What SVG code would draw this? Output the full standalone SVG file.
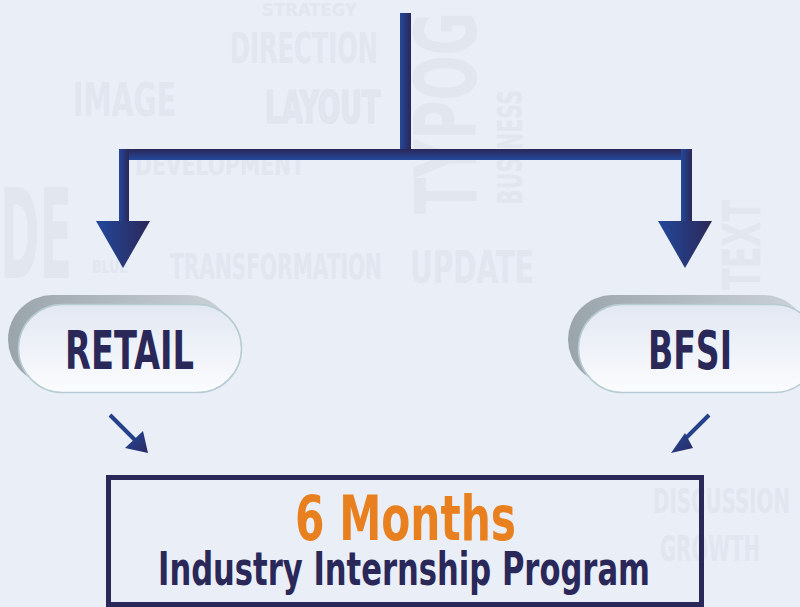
<svg xmlns="http://www.w3.org/2000/svg" width="800" height="607" viewBox="0 0 800 607">
<defs>
<style>
.wm{font-family:"Liberation Sans Narrow","DejaVu Sans Condensed","Liberation Sans",sans-serif;font-weight:bold;fill:#e2e6ef}
.lbl{font-family:"Liberation Sans Narrow","DejaVu Sans Condensed","Liberation Sans",sans-serif;font-weight:bold;fill:#2a2858}
</style>
<linearGradient id="gv" x1="0" y1="0" x2="1" y2="0"><stop offset="0" stop-color="#24489a"/><stop offset="1" stop-color="#2a2757"/></linearGradient>
<linearGradient id="gh" x1="0" y1="0" x2="0" y2="1"><stop offset="0" stop-color="#2a2757"/><stop offset="1" stop-color="#24489a"/></linearGradient>
<linearGradient id="gt" x1="0" y1="0" x2="1" y2="0"><stop offset="0" stop-color="#23489c"/><stop offset="1" stop-color="#2b2858"/></linearGradient>
<linearGradient id="gp" x1="0" y1="0" x2="0" y2="1"><stop offset="0" stop-color="#e2e8f2"/><stop offset="1" stop-color="#fbfcfe"/></linearGradient>
<linearGradient id="gs" x1="0" y1="0" x2="1" y2="0"><stop offset="0" stop-color="#9aa4ab"/><stop offset="1" stop-color="#cdd3d9"/></linearGradient>
<linearGradient id="ga" x1="0" y1="0" x2="1" y2="1"><stop offset="0" stop-color="#24489a"/><stop offset="1" stop-color="#2a2a62"/></linearGradient>
</defs>
<rect width="800" height="607" fill="#eaeef7"/>
<g id="watermark">
<text class="wm" x="262" y="16" font-size="18" textLength="95" lengthAdjust="spacingAndGlyphs">STRATEGY</text>
<text class="wm" x="230" y="63" font-size="42" textLength="148" lengthAdjust="spacingAndGlyphs">DIRECTION</text>
<text class="wm" x="73" y="116" font-size="46" textLength="103" lengthAdjust="spacingAndGlyphs">IMAGE</text>
<text class="wm" x="265" y="123" font-size="44" textLength="115" lengthAdjust="spacingAndGlyphs" fill="none" stroke="#e0e4ed" stroke-width="1.2">LAYOUT</text>
<text class="wm" x="135" y="175" font-size="28" textLength="170" lengthAdjust="spacingAndGlyphs">DEVELOPMENT</text>
<text class="wm" x="92" y="273" font-size="18" textLength="36" lengthAdjust="spacingAndGlyphs">BLUE</text>
<text class="wm" x="170" y="279" font-size="36" textLength="212" lengthAdjust="spacingAndGlyphs">TRANSFORMATION</text>
<text class="wm" x="410" y="283" font-size="44" textLength="124" lengthAdjust="spacingAndGlyphs">UPDATE</text>
<text class="wm" transform="translate(476,214) rotate(-90)" font-size="86" textLength="202" lengthAdjust="spacingAndGlyphs">TYPOG</text>
<text class="wm" transform="translate(522,205) rotate(-90)" font-size="34" textLength="115" lengthAdjust="spacingAndGlyphs">BUSINESS</text>
<text class="wm" transform="translate(760,290) rotate(-90)" font-size="52" textLength="90" lengthAdjust="spacingAndGlyphs">TEXT</text>
<text class="wm" x="653" y="513" font-size="34" textLength="137" lengthAdjust="spacingAndGlyphs">DISCUSSION</text>
<text class="wm" x="660" y="561" font-size="36" textLength="100" lengthAdjust="spacingAndGlyphs">GROWTH</text>
<text class="wm" x="0" y="278" font-size="124" textLength="72" lengthAdjust="spacingAndGlyphs" fill="#e4e8f0">DE</text>
</g>
<g id="connectors">
<rect x="400" y="13" width="11" height="140" fill="url(#gv)"/>
<rect x="119" y="149" width="573" height="11" fill="url(#gh)"/>
<rect x="119" y="149" width="10" height="74" fill="url(#gv)"/>
<rect x="681" y="149" width="11" height="74" fill="url(#gv)"/>
<polygon points="96,221 150,221 123,268" fill="url(#gt)"/>
<polygon points="658,221 712,221 685,268" fill="url(#gt)"/>
<line x1="110" y1="415" x2="136" y2="441" stroke="#24408a" stroke-width="4"/>
<polygon points="148,453 125,448 143,431" fill="url(#ga)"/>
<line x1="709" y1="415" x2="683" y2="441" stroke="#24408a" stroke-width="4"/>
<polygon points="671,453 693,448 685,433" fill="url(#ga)"/>
</g>
<g id="retail">
<rect x="8" y="295" width="224" height="89" rx="44.5" fill="url(#gs)"/>
<rect x="18.5" y="304.5" width="223" height="88" rx="44" fill="url(#gp)" stroke="#b7cbd3" stroke-width="1.5"/>
<text class="lbl" x="129.5" y="369" font-size="54" text-anchor="middle" textLength="129" lengthAdjust="spacingAndGlyphs">RETAIL</text>
</g>
<g id="bfsi">
<rect x="568" y="295" width="240" height="89" rx="44.5" fill="url(#gs)"/>
<rect x="578.5" y="304.5" width="240" height="88" rx="44" fill="url(#gp)" stroke="#b7cbd3" stroke-width="1.5"/>
<text class="lbl" x="690" y="369" font-size="54" text-anchor="middle" textLength="84" lengthAdjust="spacingAndGlyphs">BFSI</text>
</g>
<g id="program">
<rect x="108.5" y="477.5" width="593" height="127" fill="none" stroke="#2a2858" stroke-width="5"/>
<text x="405.5" y="540" font-family="Liberation Sans Narrow,DejaVu Sans Condensed,Liberation Sans,sans-serif" font-weight="bold" font-size="62" fill="#e8801f" text-anchor="middle" textLength="221" lengthAdjust="spacingAndGlyphs">6 Months</text>
<text class="lbl" x="404" y="585" font-size="46" text-anchor="middle" textLength="492" lengthAdjust="spacingAndGlyphs">Industry Internship Program</text>
</g>
</svg>
